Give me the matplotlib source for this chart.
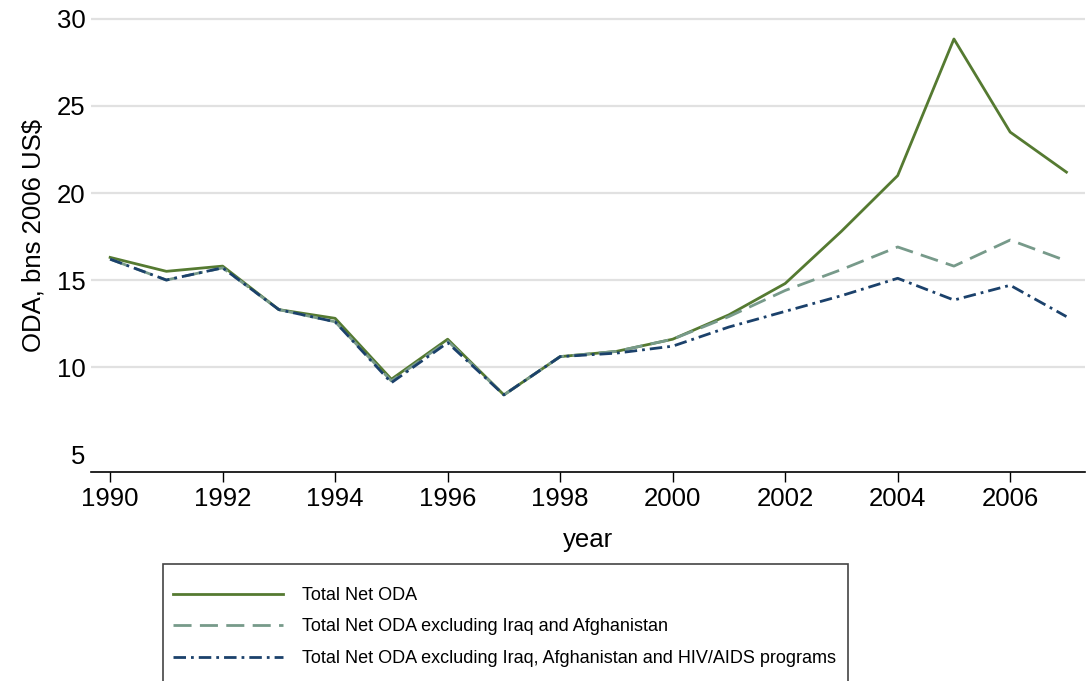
import matplotlib
matplotlib.use('Agg')
import matplotlib.pyplot as plt
from matplotlib.patches import Rectangle

plt.rcParams['font.family'] = ['Liberation Sans', 'DejaVu Sans']

# ODA data, bns 2006 US$
years = list(range(1990, 2008))
total = [16.3, 15.5, 15.8, 13.3, 12.8, 9.3, 11.6, 8.4, 10.6, 10.9,
         11.6, 13.0, 14.8, 17.8, 21.0, 28.85, 23.5, 21.2]
excl_iq_af = [16.2, 15.0, 15.7, 13.3, 12.6, 9.2, 11.5, 8.4, 10.6, 10.9,
              11.6, 12.9, 14.4, 15.6, 16.9, 15.8, 17.3, 16.1]
excl_iq_af_hiv = [16.2, 15.0, 15.7, 13.3, 12.6, 9.1, 11.4, 8.4, 10.6, 10.8,
                  11.2, 12.3, 13.2, 14.1, 15.1, 13.85, 14.7, 12.9]

labels = ['Total Net ODA',
          'Total Net ODA excluding Iraq and Afghanistan',
          'Total Net ODA excluding Iraq, Afghanistan and HIV/AIDS programs']
yticks = [5, 10, 15, 20, 25, 30]
xticks = list(range(1990, 2008, 2))

W, H = 1091, 681
fig = plt.figure(figsize=(W / 100, H / 100), dpi=100)
ax = fig.add_axes([91 / W, 1 - 472 / H, (1085 - 91) / W, 472 / H])

for g in [10, 15, 20, 25, 30]:
    ax.axhline(g, color='#e1e1e1', lw=1.6, zorder=0)

ax.plot(years, total, color='#557a31', lw=2.0, label=labels[0])
ax.plot(years, excl_iq_af, color='#779a8a', lw=2.0, dashes=(6.5, 3), label=labels[1])
ax.plot(years, excl_iq_af_hiv, color='#1b416b', lw=2.0, dashes=(4.5, 1.8, 1, 1.8), label=labels[2])

ax.set_xlim(1989.66, 2007.33)
ax.set_ylim(3.97, 31.09)
ax.set_xticks(xticks)
ax.set_yticks(yticks)
ax.tick_params(axis='x', labelsize=18.5, length=7, width=1, direction='out', pad=4)
ax.tick_params(axis='y', labelsize=18.5, length=0, pad=4)
for s in ['top', 'right', 'left']:
    ax.spines[s].set_visible(False)
ax.spines['bottom'].set_linewidth(1.2)

ax.set_xlabel('year', fontsize=18.5, labelpad=12)
ax.set_ylabel('ODA, bns 2006 US$', fontsize=18.5, labelpad=8)

# legend box runs off the bottom of the image
fig.patches.append(Rectangle((163 / W, -0.05), (848 - 163) / W, 1 - 564 / H + 0.05,
                             transform=fig.transFigure, fill=False,
                             edgecolor='#444444', lw=1.2))
leg = fig.legend(loc='upper left', bbox_to_anchor=(163 / W, 1 - 577 / H),
                 fontsize=13, handlelength=6.1, handletextpad=1.05,
                 labelspacing=0.8, borderpad=0.55, borderaxespad=0,
                 frameon=False)

plt.savefig('out.png', dpi=100)
